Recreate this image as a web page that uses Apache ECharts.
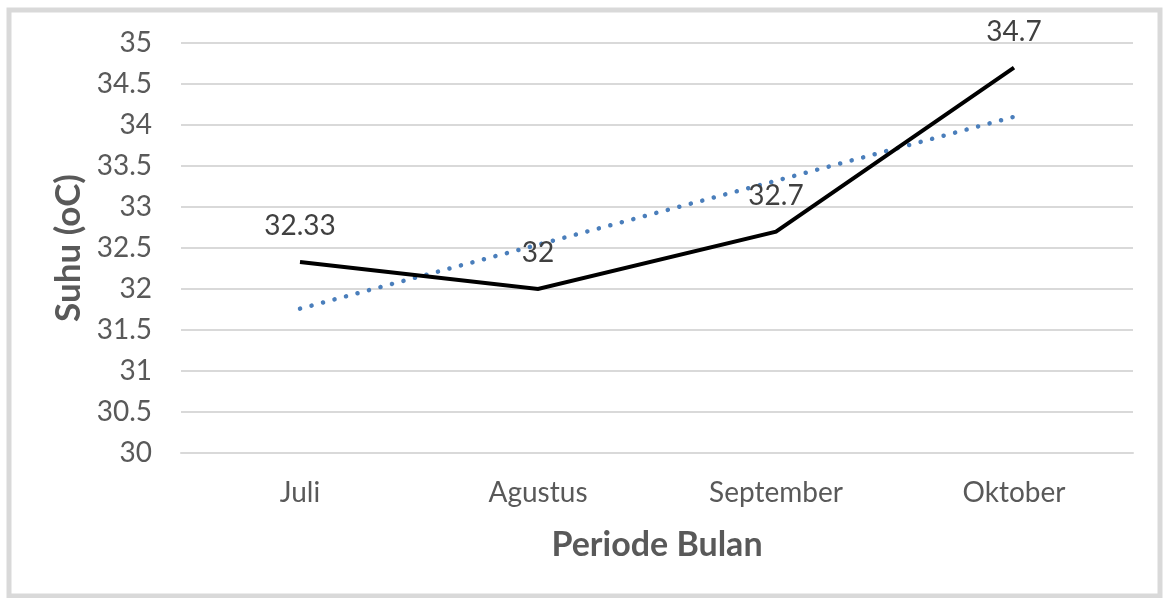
<!DOCTYPE html>
<html>
<head>
<meta charset="utf-8">
<script src="https://cdn.jsdelivr.net/npm/echarts@6/dist/echarts.min.js"></script>
<style>html,body{margin:0;padding:0;background:#fff}#c{width:1165px;height:598px}</style>
</head>
<body>
<div id="c"></div>
<script>
const categories = ['Juli', 'Agustus', 'September', 'Oktober'];
const suhu = [32.33, 32, 32.7, 34.7];
const trend = [31.76, 32.54, 33.32, 34.10];
const yTicks = { min: 30, max: 35, interval: 0.5 };

const FONT = 'Lato, "Open Sans", sans-serif';
const chart = echarts.init(document.getElementById('c'));
chart.setOption({
  animation: false,
  backgroundColor: '#fff',
  graphic: [{
    type: 'rect', silent: true,
    shape: { x: 9, y: 10, width: 1151, height: 586 },
    style: { fill: 'none', stroke: '#d9d9d9', lineWidth: 5 }
  }],
  grid: { left: 181, right: 32, top: 43, bottom: 145 },
  xAxis: {
    type: 'category', data: categories, boundaryGap: true,
    axisLine: { show: true, lineStyle: { color: '#d9d9d9', width: 2 } },
    axisTick: { show: false },
    axisLabel: { color: '#595959', fontSize: 28, fontFamily: FONT, margin: 26 },
    name: 'Periode Bulan', nameLocation: 'middle', nameGap: 75,
    nameTextStyle: { color: '#595959', fontSize: 34, fontWeight: 'bold', fontFamily: FONT }
  },
  yAxis: {
    type: 'value', min: yTicks.min, max: yTicks.max, interval: yTicks.interval,
    axisLine: { show: false }, axisTick: { show: false },
    splitLine: { lineStyle: { color: '#d9d9d9', width: 2 } },
    axisLabel: { color: '#595959', fontSize: 28, fontFamily: FONT, margin: 29 },
    name: 'Suhu (oC)', nameLocation: 'middle', nameGap: 95, nameRotate: 90,
    nameTextStyle: { color: '#595959', fontSize: 35, fontWeight: 'bold', fontFamily: FONT }
  },
  series: [
    {
      name: 'Suhu', type: 'line', data: suhu,
      symbol: 'circle', symbolSize: 0.01, showSymbol: true,
      lineStyle: { color: '#000', width: 4, join: 'miter' },
      itemStyle: { color: '#000' },
      label: { show: true, position: 'top', distance: 22, color: '#404040', fontSize: 28, fontFamily: FONT },
      labelLayout: { hideOverlap: false },
      z: 3
    },
    {
      name: 'Trend', type: 'line', data: trend, symbol: 'none',
      lineStyle: { color: '#4a7ebb', width: 4.5, type: [0.1, 11.8], cap: 'round' },
      z: 2
    }
  ]
});
</script>
</body>
</html>
